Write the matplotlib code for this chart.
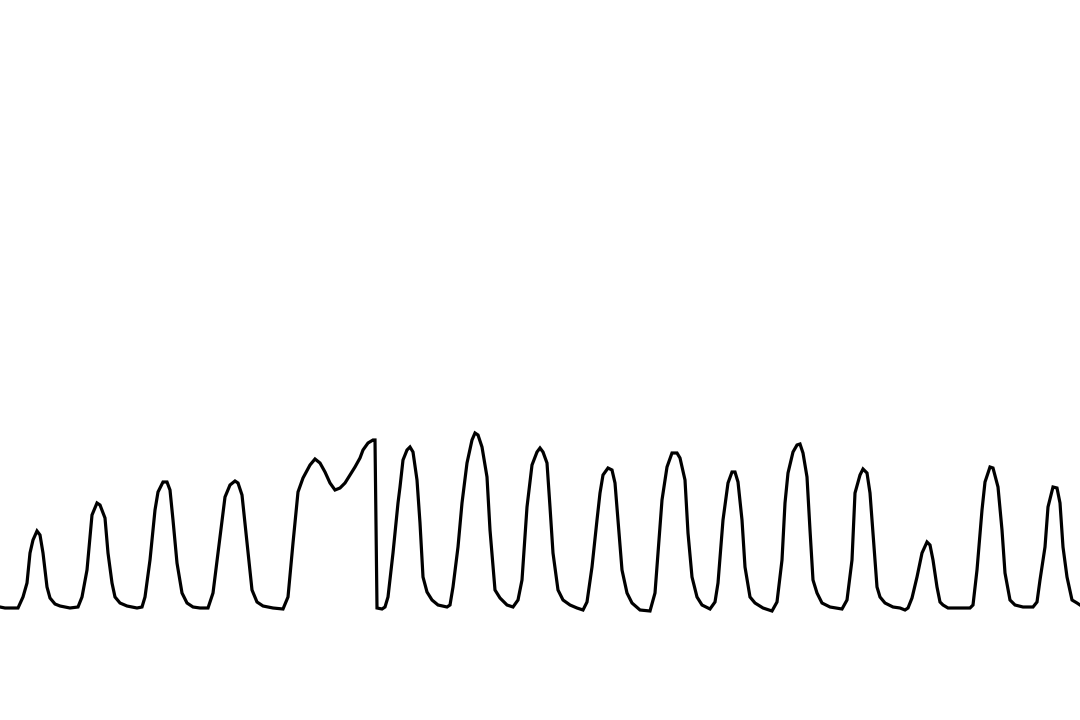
import numpy as np
import matplotlib.pyplot as plt

# sample time (px-ish units) and signal amplitude above baseline
t = [0, 5, 18, 23, 27, 30, 33, 37, 40, 43, 47, 50, 55, 60, 70, 78,
     82, 87, 92, 97, 100, 105, 108, 112, 115, 120, 127, 137, 142,
     145, 150, 155, 158, 163, 167, 170, 173, 177, 182, 187, 193, 200,
     208, 213, 218, 225, 230, 235, 238, 242, 247, 252, 257, 263, 273, 283,
     288, 293, 298, 303, 310, 315, 320, 325, 330, 335, 340, 345, 350, 355,
     360, 363, 368, 373, 375, 377, 382, 385, 388, 393, 398,
     400, 403, 407, 410, 413, 417, 420, 423, 427, 432, 438, 447,
     450, 453, 458, 462, 467, 472, 475, 478, 482, 487, 490, 495, 500, 507, 513,
     518, 522, 527, 532, 537, 540, 543, 547, 550, 553, 558, 563, 570, 577, 583,
     587, 592, 597, 600, 603, 608, 612, 615, 618, 622, 627, 632, 640, 650,
     655, 658, 662, 667, 672, 677, 680, 685, 688, 692, 697, 702, 710,
     715, 718, 723, 728, 732, 735, 738, 742, 745, 750, 755, 763, 772,
     777, 782, 785, 788, 793, 797, 800, 803, 807, 810, 813, 817, 822, 830, 842,
     847, 852, 855, 860, 863, 867, 870, 873, 877, 880, 885, 893, 900, 905, 908,
     912, 917, 922, 927, 930, 933, 937, 940, 943, 948, 970,
     973, 977, 982, 985, 990, 993, 998, 1002, 1005, 1010, 1015, 1023, 1033,
     1037, 1040, 1045, 1048, 1053, 1057, 1060, 1063, 1067, 1072, 1077, 1080]

ypix = [607, 608, 608, 597, 583, 553, 540, 531, 535, 553, 587, 598, 604, 606, 608, 607,
        597, 570, 515, 503, 505, 518, 553, 583, 597, 603, 606, 608, 607,
        597, 560, 510, 492, 482, 482, 490, 520, 563, 593, 603, 607, 608,
        608, 593, 553, 497, 485, 481, 483, 495, 543, 590, 602, 606, 608, 609,
        597, 543, 492, 478, 465, 459, 463, 472, 483, 490, 488, 483, 475, 467,
        458, 450, 443, 440, 440, 608, 609, 607, 597, 553, 503,
        487, 460, 450, 447, 452, 480, 523, 577, 592, 600, 605, 607,
        605, 587, 547, 503, 463, 440, 433, 435, 447, 477, 530, 590, 598, 605, 607,
        600, 580, 507, 465, 452, 448, 452, 463, 507, 553, 590, 600, 605, 608, 610,
        602, 567, 520, 493, 475, 468, 470, 483, 520, 570, 593, 603, 610, 611,
        593, 553, 500, 467, 453, 453, 458, 480, 533, 577, 597, 605, 609,
        602, 583, 520, 483, 472, 472, 482, 520, 567, 597, 603, 608, 611,
        602, 560, 503, 473, 452, 445, 444, 453, 477, 530, 580, 593, 603, 607, 609,
        600, 560, 493, 475, 469, 473, 493, 533, 587, 597, 603, 607, 608, 610, 608,
        598, 577, 553, 542, 545, 560, 587, 602, 605, 608, 608,
        605, 570, 510, 482, 467, 468, 487, 530, 573, 600, 605, 607, 607,
        602, 580, 547, 507, 487, 488, 503, 547, 577, 600, 603, 605]

amp = 608 - np.array(ypix)

fig = plt.figure(figsize=(10.8, 7.2), dpi=100)
ax = fig.add_axes([0, 0, 1, 1])
ax.plot(t, amp, color='black', linewidth=2.3, solid_joinstyle='miter')
ax.set_xlim(0, 1080)
ax.set_ylim(-112, 608)
ax.axis('off')
fig.savefig('out.png', dpi=100)
